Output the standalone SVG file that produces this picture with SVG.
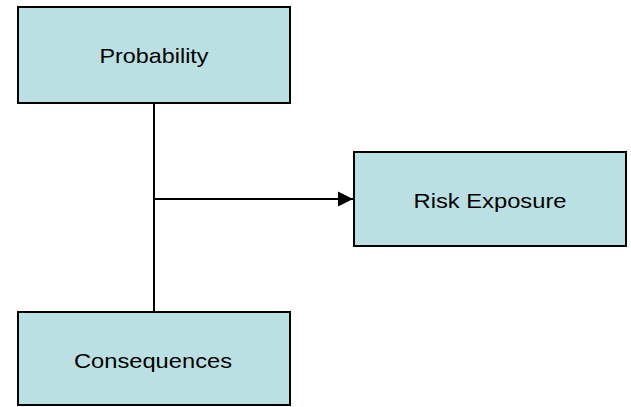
<svg xmlns="http://www.w3.org/2000/svg" width="631" height="407" viewBox="0 0 631 407">
<style>
.box{fill:#bae0e3;stroke:#000;stroke-width:2}
.lbl{font-family:"Liberation Sans",Arial,sans-serif;font-size:21px;fill:#000;text-anchor:middle}
.conn{stroke:#000;stroke-width:2;fill:none}
</style>
<defs>
<marker id="arr" markerUnits="userSpaceOnUse" markerWidth="16" markerHeight="16" refX="15" refY="8" orient="auto">
<path d="M0,0.5 L15,8 L0,15.5 Z" fill="#000"/>
</marker>
</defs>
<rect width="631" height="407" fill="#fff"/>
<g id="connectors">
<line class="conn" x1="154" y1="104" x2="154" y2="311"/>
<line class="conn" x1="153" y1="199" x2="353" y2="199" marker-end="url(#arr)"/>
</g>
<g id="probability">
<rect class="box" x="18" y="7" width="272" height="96"/>
<text class="lbl" x="154" y="63" textLength="109" lengthAdjust="spacingAndGlyphs">Probability</text>
</g>
<g id="risk-exposure">
<rect class="box" x="354" y="152" width="272" height="94"/>
<text class="lbl" x="490" y="208" textLength="153" lengthAdjust="spacingAndGlyphs">Risk Exposure</text>
</g>
<g id="consequences">
<rect class="box" x="18" y="312" width="272" height="93"/>
<text class="lbl" x="153" y="368" textLength="158" lengthAdjust="spacingAndGlyphs">Consequences</text>
</g>
</svg>
